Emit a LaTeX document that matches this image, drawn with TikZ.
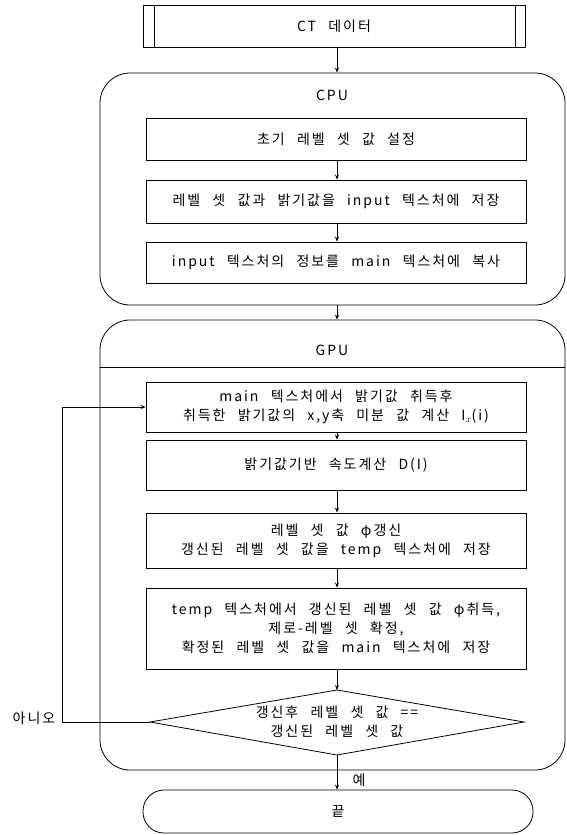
\documentclass[tikz,border=0pt]{standalone}
\usepackage{fontspec}
\setmainfont{Noto Sans CJK KR}[LetterSpace=14,WordSpace=2.4]
\usetikzlibrary{arrows.meta}
\newcommand\fs{\fontsize{14}{19}\selectfont}
\begin{document}
\begin{tikzpicture}[x=1pt,y=-1pt,line width=0.8pt,
  box/.style={draw, minimum width=380pt, align=center, inner sep=2pt, font=\fs},
  arr/.style={-{Stealth[length=5pt,width=4pt]}},
  group/.style={draw, rounded corners=30pt, minimum width=465pt},
  lbl/.style={font=\fs, inner sep=1pt}]
\useasboundingbox (0,0) rectangle (566,835);

% top predefined process
\node[box, minimum width=382pt, minimum height=42pt] (ct) at (334,26) {CT 데이터};
\draw ([xshift=12pt]ct.north west) -- ([xshift=12pt]ct.south west);
\draw ([xshift=-10pt]ct.north east) -- ([xshift=-10pt]ct.south east);

% CPU group
\node[group, minimum height=232pt] (cpu) at (332.5,189) {};
\node[lbl] (cputitle) at (332,95) {CPU};
\node[box, minimum height=42pt] (b1) at (336,139) {초기 레벨 셋 값 설정};
\node[box, minimum height=43pt] (b2) at (336,201.5) {레벨 셋 값과 밝기값을 input 텍스처에 저장};
\node[box, minimum height=41pt] (b3) at (336,262.5) {input 텍스처의 정보를 main 텍스처에 복사};

% GPU group
\node[group, minimum height=450pt] (gpu) at (332.5,545) {};
\draw ([yshift=-48pt]gpu.north west) -- ([yshift=-48pt]gpu.north east);
\node[lbl] (gputitle) at (332,350) {GPU};
\node[box, minimum height=50pt] (g1) at (336,407) {main 텍스처에서 밝기값 취득후\\취득한 밝기값의 x,y축 미분 값 계산 I$_x$(i)};
\node[box, minimum height=50pt] (g2) at (336,465) {밝기값기반 속도계산 D(I)};
\node[box, minimum height=55pt] (g3) at (336,540.5) {레벨 셋 값 φ갱신\\갱신된 레벨 셋 값을 temp 텍스처에 저장};
\node[box, minimum height=81pt] (g4) at (336,628.5) {temp 텍스처에서 갱신된 레벨 셋 값 φ취득,\\제로-레벨 셋 확정,\\확정된 레벨 셋 값을 main 텍스처에 저장};

% decision
\coordinate (dt) at (337,690);
\coordinate (dr) at (524,722);
\coordinate (db) at (337,755);
\coordinate (dl) at (150,722);
\draw (dt) -- (dr) -- (db) -- (dl) -- cycle;
\node[lbl, align=center] (dec) at (337,722) {갱신후 레벨 셋 값 ==\\갱신된 레벨 셋 값};

% end
\node[draw, rounded corners=21pt, minimum width=390pt, minimum height=43pt, font=\fs] (end) at (338,811.5) {끝};

% connectors
\draw[arr] (ct.south -| 337,0) -- (cpu.north -| 337,0);
\draw[arr] (b1.south -| 337,0) -- (b2.north -| 337,0);
\draw[arr] (b2.south -| 337,0) -- (b3.north -| 337,0);
\draw[arr] (cpu.south -| 337,0) -- (gpu.north -| 337,0);
\draw[arr] (g1.south -| 337,0) -- (g2.north -| 337,0);
\draw[arr] (g2.south -| 337,0) -- (g3.north -| 337,0);
\draw[arr] (g3.south -| 337,0) -- (g4.north -| 337,0);
\draw[arr] (g4.south -| 337,0) -- (dt);
\draw[arr] (db) -- (end.north -| 337,0);
\coordinate (loopc) at (62,722);
\draw[arr] (dl) -- (loopc) |- (g1.west);
\node[lbl] (no) at (34,718) {아니오};
\node[lbl] (yes) at (359,780) {예};
\end{tikzpicture}
\end{document}
